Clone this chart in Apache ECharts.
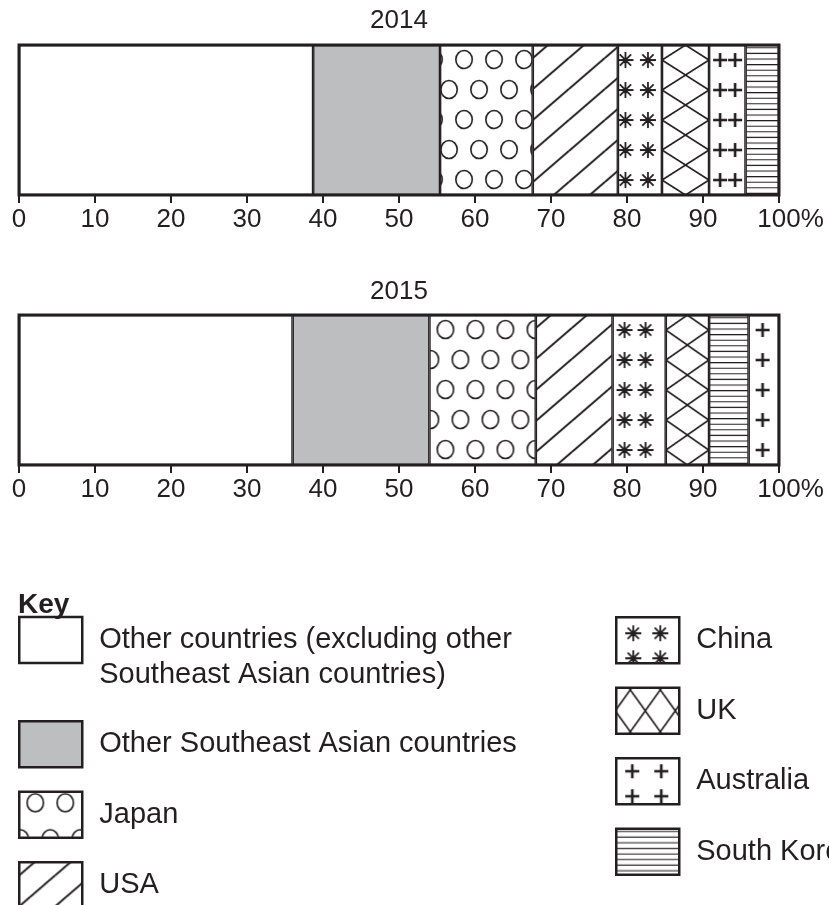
<!DOCTYPE html>
<html><head><meta charset="utf-8">
<script src="https://cdn.jsdelivr.net/npm/echarts@6/dist/echarts.min.js"></script>
<style>html,body{margin:0;padding:0;background:#fff}#c{width:829px;height:905px}</style>
</head><body><div id="c"></div>
<script>
// ---------------- data ----------------
const years = ['2014', '2015'];
const countries = ['Other countries', 'Other Southeast Asian countries', 'Japan', 'USA', 'China', 'UK', 'Australia', 'South Korea'];
const keyLabels = ['Other countries (excluding other\nSoutheast Asian countries)', 'Other Southeast Asian countries', 'Japan', 'USA', 'China', 'UK', 'Australia', 'South Korea'];
const share2014 = [38.7, 16.7, 12.2, 11.2, 5.8, 6.2, 4.8, 4.4];
const share2015 = [36.0, 18.0, 14.0, 10.1, 7.0, 5.7, 4.0, 5.2];
// left-to-right stacking order of the segments (indices into countries)
const order2014 = [0, 1, 2, 3, 4, 5, 6, 7];
const order2015 = [0, 1, 2, 3, 4, 5, 7, 6];
const xTicks = [0, 10, 20, 30, 40, 50, 60, 70, 80, 90, 100];
const tickLabels = ['0', '10', '20', '30', '40', '50', '60', '70', '80', '90', '100%'];
const keyLeftCol = [0, 1, 2, 3];
const keyRightCol = [4, 5, 6, 7];

// ---------------- layout / style ----------------
const INK = '#231f20';
const GRAY = '#bcbec0';
const FONT = '"Liberation Sans", Arial, Helvetica, sans-serif';
const GRID_LEFT = 19, GRID_RIGHT = 50, GRID_H = 150;
const GRID_TOPS = [45, 315];
const TITLE_TOPS = [8, 279];
const KEY_LEFT = { x: 18, top: 582 };
const KEY_RIGHT = { x: 615, top: 616 };

const shares = [share2014, share2015];
const orders = [order2014, order2015];

function plainColor(ci) { return ci === 1 ? GRAY : '#ffffff'; }

function tile(w, h, draw) {
  const c = document.createElement('canvas');
  c.width = w; c.height = h;
  const g = c.getContext('2d');
  g.fillStyle = '#ffffff'; g.fillRect(0, 0, w, h);
  g.strokeStyle = INK; g.fillStyle = INK;
  for (const ox of [-w, 0, w]) for (const oy of [-h, 0, h]) {
    g.save(); g.translate(ox, oy); draw(g, w, h); g.restore();
  }
  return c;
}
// pattern parameters per year (index 0,1) and for the key (index 2)
const PAT = {
  Japan: [{ ax: 24, bx: 9, ay: 14.5, by: 44.5 }, { ax: 16, bx: 1, ay: 14.5, by: 44.5 }, { ax: 16, bx: 1, ay: 11, by: 47 }],
  China: [{ xs: [7.5, 30], th: 30, cy: 15 }, { xs: [12, 33], th: 30, cy: 15 }, { xs: [17, 44], th: 25, cy: 16 }],
  UK: [null, null, { tw: 30, th: 42, dx: -1, dy: 2 }],
  Australia: [{ xs: [11, 26], th: 30, cy: 15 }, { xs: [14], th: 30, cy: 15 }, { xs: [16, 45], th: 25, cy: 13 }]
};
function makeFill(ci, k, x0, w, y0) {
  const name = countries[ci];
  if (ci <= 1) return plainColor(ci);
  let img, dx = 0, dy = 0;
  if (name === 'Japan') {
    const p = PAT.Japan[k];
    img = tile(30, 60, (g) => {
      g.lineWidth = 1.6;
      for (const [cx, cy] of [[p.ax, p.ay], [p.bx, p.by]]) {
        g.beginPath(); g.ellipse(cx, cy, 8.2, 9, 0, 0, Math.PI * 2); g.stroke();
      }
    });
  } else if (name === 'USA') {
    img = tile(36, 31, (g, tw, th) => {
      g.lineWidth = 2; g.beginPath(); g.moveTo(0, th); g.lineTo(tw, 0); g.stroke();
    });
    dy = 13;
  } else if (name === 'China') {
    const p = PAT.China[k];
    img = tile(70, p.th, (g) => {
      g.lineWidth = 1.8; g.beginPath();
      for (const cx of p.xs) {
        for (const a of [0, Math.PI / 4, Math.PI / 2, 3 * Math.PI / 4]) {
          const r = 8;
          g.moveTo(cx - r * Math.cos(a), p.cy - r * Math.sin(a));
          g.lineTo(cx + r * Math.cos(a), p.cy + r * Math.sin(a));
        }
      }
      g.stroke();
    });
  } else if (name === 'UK') {
    const p = PAT.UK[k];
    const tw = p ? p.tw : Math.max(20, Math.round(w));
    const th = p ? p.th : 30;
    if (p) { dx = p.dx; dy = p.dy; }
    img = tile(tw, th, (g, a, b) => {
      g.lineWidth = 1.6; g.beginPath();
      g.moveTo(a / 2, 0); g.lineTo(a, b / 2); g.lineTo(a / 2, b); g.lineTo(0, b / 2); g.closePath(); g.stroke();
    });
  } else if (name === 'Australia') {
    const p = PAT.Australia[k];
    img = tile(70, p.th, (g) => {
      g.lineWidth = 2.6; g.beginPath();
      for (const cx of p.xs) {
        const r = 7;
        g.moveTo(cx - r, p.cy); g.lineTo(cx + r, p.cy);
        g.moveTo(cx, p.cy - r); g.lineTo(cx, p.cy + r);
      }
      g.stroke();
    });
  } else if (name === 'South Korea') {
    img = tile(8, 28, (g) => {
      g.lineWidth = 1.1; g.beginPath();
      for (let i = 0; i < 5; i++) { const y = 2.8 + 5.6 * i; g.moveTo(0, y); g.lineTo(8, y); }
      g.stroke();
    });
  }
  return { image: img, repeat: 'repeat', x: x0 + dx, y: y0 + dy };
}

function buildSeries(fills) {
  const out = [];
  years.forEach((yr, yi) => {
    orders[yi].forEach((ci) => {
      out.push({
        type: 'bar', name: countries[ci], xAxisIndex: yi, yAxisIndex: yi, stack: 'stack' + yr,
        data: [shares[yi][ci]], barWidth: '100%', silent: true,
        itemStyle: { color: fills ? fills[yi][ci] : plainColor(ci), borderColor: INK, borderWidth: 1.3 },
        emphasis: { disabled: true }
      });
    });
  });
  return out;
}

function buildLegend(col, cfg, withFills) {
  return {
    orient: 'vertical', left: cfg.x, top: cfg.top, padding: 0,
    itemWidth: 63, itemHeight: 46, itemGap: 22, icon: 'rect', selectedMode: false,
    itemStyle: { borderColor: INK, borderWidth: 2.5 },
    textStyle: { fontFamily: FONT, fontSize: 29, lineHeight: 35, color: INK, padding: [0, 0, 0, 12] },
    formatter: (n) => {
      const lab = keyLabels[countries.indexOf(n)];
      // multi-line labels start level with the key box: lead with a blank line
      return lab.indexOf('\n') >= 0 ? '\n' + lab : lab;
    },
    data: col.map((ci) => {
      const d = { name: countries[ci] };
      if (keyLabels[ci].indexOf('\n') >= 0) d.textStyle = { padding: [5.5, 0, 5.5, 12] };
      // legend icons are drawn in their own local frame
      if (withFills) d.itemStyle = { color: makeFill(ci, 2, 0, 63, 0) };
      return d;
    })
  };
}

const chart = echarts.init(document.getElementById('c'), null, { renderer: 'canvas' });
const axisLabel = {
  fontFamily: FONT, fontSize: 26, color: INK, margin: 12,
  formatter: (v) => {
    const t = tickLabels[xTicks.indexOf(v)];
    return t.indexOf('%') >= 0 ? '{p|' + t + '}' : t;
  },
  rich: { p: { fontFamily: FONT, fontSize: 26, color: INK, padding: [0, 0, 0, 23] } }
};
const option = {
  animation: false,
  backgroundColor: '#ffffff',
  title: [
    { text: years[0], left: GRID_LEFT + (829 - GRID_LEFT - GRID_RIGHT) / 2, textAlign: 'center', top: TITLE_TOPS[0], padding: 0,
      textStyle: { fontFamily: FONT, fontSize: 26, fontWeight: 'normal', color: INK } },
    { text: years[1], left: GRID_LEFT + (829 - GRID_LEFT - GRID_RIGHT) / 2, textAlign: 'center', top: TITLE_TOPS[1], padding: 0,
      textStyle: { fontFamily: FONT, fontSize: 26, fontWeight: 'normal', color: INK } },
    { text: 'Key', left: 18, top: 591, padding: 0,
      textStyle: { fontFamily: FONT, fontSize: 28, fontWeight: 'bold', color: INK } }
  ],
  grid: GRID_TOPS.map((t) => ({ left: GRID_LEFT, right: GRID_RIGHT, top: t, height: GRID_H, show: true, z: 10,
    backgroundColor: 'transparent', borderColor: INK, borderWidth: 3 })),
  xAxis: years.map((yr, yi) => ({
    gridIndex: yi, type: 'value', min: 0, max: 100, interval: 10,
    axisLine: { show: false }, splitLine: { show: false },
    axisTick: { show: true, length: 8, lineStyle: { color: INK, width: 2 } },
    axisLabel: axisLabel
  })),
  yAxis: years.map((yr, yi) => ({ gridIndex: yi, type: 'category', data: [yr], show: false })),
  legend: [buildLegend(keyLeftCol, KEY_LEFT, false), buildLegend(keyRightCol, KEY_RIGHT, false)],
  series: buildSeries(null)
};
chart.setOption(option);

// second pass: pattern fills anchored on each segment via the axis scale
const fills = years.map((yr, yi) => {
  const f = {};
  let acc = 0;
  orders[yi].forEach((ci) => {
    const x0 = chart.convertToPixel({ xAxisIndex: yi }, acc);
    const x1 = chart.convertToPixel({ xAxisIndex: yi }, acc + shares[yi][ci]);
    f[ci] = makeFill(ci, yi, x0, x1 - x0, GRID_TOPS[yi]);
    acc += shares[yi][ci];
  });
  return f;
});
chart.setOption({
  series: buildSeries(fills),
  legend: [buildLegend(keyLeftCol, KEY_LEFT, true), buildLegend(keyRightCol, KEY_RIGHT, true)]
});
</script>
</body></html>
